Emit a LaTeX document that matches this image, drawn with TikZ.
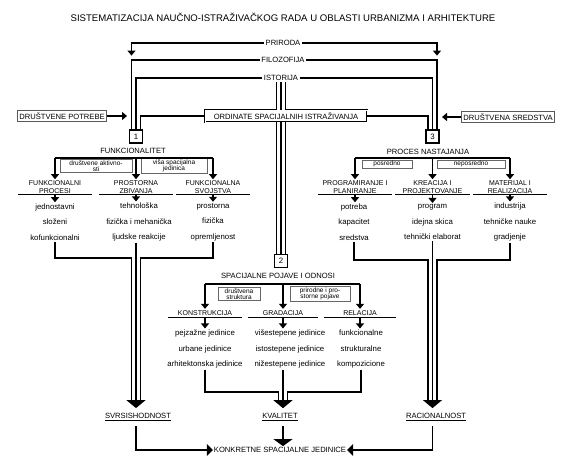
\documentclass[tikz,border=0pt]{standalone}
\usepackage{fontspec}
\setmainfont{Liberation Sans}
\usetikzlibrary{arrows.meta}
\begin{document}
\begin{tikzpicture}[x=1pt,y=-1pt,
  every node/.style={font=\fontsize{7.6}{8}\selectfont,inner sep=1pt},
  ln/.style={line width=1.1pt},
  brk/.style={fill=white,inner sep=1.5pt},
  numbox/.style={draw,line width=1.1pt,minimum size=13pt,inner sep=0pt,fill=white,font=\fontsize{7.8}{8}\selectfont},
  ordbox/.style={draw,double,double distance=0.8pt,line width=0.7pt,fill=white,minimum width=162pt,minimum height=12pt},
  sidebox/.style={draw=black!65,line width=0.8pt,minimum height=11pt,inner xsep=2pt},
  tagbox/.style={draw=black!60,line width=0.7pt,inner sep=1pt,align=center,font=\fontsize{6.5}{6.5}\selectfont},
  sub/.style={align=center,minimum width=74pt,inner sep=1.5pt,font=\fontsize{7}{7.3}\selectfont},
  list/.style={align=center,font=\fontsize{7.8}{15.7}\selectfont},
  res/.style={inner ysep=5pt},
  tip/.style={-{Triangle[width=8pt,length=5pt]}},
  bigtip/.style={-{Triangle[width=19pt,length=8pt]}},
  sidetip/.style={-{Triangle[width=12pt,length=6pt]}},
  triple/.style={double,double distance=7.8pt}
]
\path[use as bounding box] (0,0) rectangle (565,461);

% title
\node[font=\fontsize{9.6}{10}\selectfont] (title) at (283,17) {SISTEMATIZACIJA NAUČNO-ISTRAŽIVAČKOG RADA U OBLASTI URBANIZMA I ARHITEKTURE};

% outer frame
\node[brk] (prir) at (283,43) {PRIRODA};
\node[brk] (filo) at (283,60) {FILOZOFIJA};
\node[brk] (isto) at (281,78) {ISTORIJA};
\node[ordbox] (ordi) at (286,116) {ORDINATE SPACIJALNIH ISTRAŽIVANJA};
\node[numbox] (n1) at (136,136.5) {1};
\node[numbox] (n3) at (432.5,136.5) {3};
\node[numbox] (n2) at (281,261) {2};
\node[sidebox] (drpot) at (62,116) {DRUŠTVENE POTREBE};
\node[sidebox] (drsr) at (508,117) {DRUŠTVENA SREDSTVA};
\coordinate (potin) at (127,116);
\coordinate (srin) at (442,117);

\draw[ln,tip] (prir.west) -| ([xshift=-4.5pt]n1.north |- filo.north);
\draw[ln,tip] (prir.east) -| ([xshift=4.5pt]n3.north |- filo.north);
\draw[ln] (filo.west) -| ([xshift=-4.5pt]n1.north);
\draw[ln] (filo.east) -| ([xshift=4.5pt]n3.north);
\draw[ln] (isto.west) -| (n1.north);
\draw[ln] (isto.east) -| (n3.north);
\draw[ln] (ordi.west) -| ([xshift=4.5pt]n1.north);
\draw[ln] (ordi.east) -| ([xshift=-4.5pt]n3.north);
\draw[ln,triple] (isto.south) -- (isto.south |- ordi.north);
\draw[ln] (isto.south) -- (isto.south |- ordi.north);
\draw[ln,triple] (isto.south |- ordi.south) -- (n2.north);
\draw[ln] (isto.south |- ordi.south) -- (n2.north);
\draw[ln,tip] (drpot.east) -- (potin);
\draw[ln,tip] (drsr.west) -- (srin);

% 1 - funkcionalitet
\node (funk) at (133,151) {FUNKCIONALITET};
\coordinate (bl1) at (55,158);
\coordinate (bl3) at (213,158);
\node[tagbox,minimum width=72pt] (t1) at (96,166) {društvene aktivno-\\sti};
\node[tagbox,minimum width=66pt] (t2) at (174,166) {viša spacijalna\\jedinica};
\node[sub] (fp) at (55,187) {FUNKCIONALNI\\PROCESI};
\node[sub] (pz) at (136,187) {PROSTORNA\\ZBIVANJA};
\node[sub] (fs) at (213,187) {FUNKCIONALNA\\SVOJSTVA};
\node[list] (fpl) at (55,222) {jednostavni\\složeni\\kofunkcionalni};
\node[list] (pzl) at (139,222) {tehnološka\\fizička i mehanička\\ljudske reakcije};
\node[list] (fsl) at (213,222) {prostorna\\fizička\\opremljenost};
\draw[ln] (bl1) -- (bl3);
\draw[ln,tip] (bl1) -- (fp.north);
\draw[ln,tip] (pz.north |- bl1) -- (pz.north);
\draw[ln,tip] (bl3) -- (fs.north);
\draw[ln] (fp.south west) -- (fp.south east);
\draw[ln] (pz.south west) -- (pz.south east);
\draw[ln] (fs.south west) -- (fs.south east);
\draw[ln,tip] (fp.south) -- (fpl.north);
\draw[ln,tip] (pz.south) -- (pz.south |- pzl.north);
\draw[ln,tip] (fs.south) -- (fsl.north);

% 3 - proces nastajanja
\node (proc) at (428,152) {PROCES NASTAJANJA};
\coordinate (br1) at (355,158);
\coordinate (br3) at (510,158);
\node[tagbox,minimum width=50pt] (t3) at (387,164) {posredno};
\node[tagbox,minimum width=68pt] (t4) at (471,164) {neposredno};
\node[sub] (pp) at (355,187) {PROGRAMIRANJE I\\PLANIRANJE};
\node[sub] (kp) at (432.5,187) {KREACIJA I\\PROJEKTOVANJE};
\node[sub] (mr) at (510,187) {MATERIJAL I\\REALIZACIJA};
\node[list] (ppl) at (354,222) {potreba\\kapacitet\\sredstva};
\node[list] (kpl) at (432.5,222) {program\\idejna skica\\tehnički elaborat};
\node[list] (mrl) at (510,222) {industrija\\tehničke nauke\\gradjenje};
\draw[ln] (br1) -- (br3);
\draw[ln,tip] (br1) -- (pp.north);
\draw[ln,tip] (kp.north |- br1) -- (kp.north);
\draw[ln,tip] (br3) -- (mr.north);
\draw[ln] (pp.south west) -- (pp.south east);
\draw[ln] (kp.south west) -- (kp.south east);
\draw[ln] (mr.south west) -- (mr.south east);
\draw[ln,tip] (pp.south) -- (pp.south |- ppl.north);
\draw[ln,tip] (kp.south) -- (kpl.north);
\draw[ln,tip] (mr.south) -- (mrl.north);

% 2 - spacijalne pojave
\node (spo) at (278,276) {SPACIJALNE POJAVE I ODNOSI};
\coordinate (bm1) at (205,284);
\coordinate (bm3) at (360,284);
\node[tagbox,minimum width=42pt] (t5) at (239,294) {društvena\\struktura};
\node[tagbox,minimum width=60pt] (t6) at (320,294) {prirodne i pro-\\storne pojave};
\node[sub] (kon) at (205,313) {KONSTRUKCIJA};
\node[sub,minimum width=70pt] (gra) at (283,313) {GRADACIJA};
\node[sub,minimum width=72pt] (rel) at (360,313) {RELACIJA};
\node[list] (konl) at (205,349) {pejzažne jedinice\\urbane jedinice\\arhitektonska jedinice};
\node[list] (gral) at (290,349) {višestepene jedinice\\istostepene jedinice\\nižestepene jedinice};
\node[list] (rell) at (361,349) {funkcionalne\\strukturalne\\kompozicione};
\draw[ln] (bm1) -- (bm3);
\draw[ln,tip] (bm1) -- (kon.north);
\draw[ln,tip] (gra.north |- bm1) -- (gra.north);
\draw[ln,tip] (bm3) -- (rel.north);
\draw[ln] (kon.south west) -- (kon.south east);
\draw[ln] (gra.south west) -- (gra.south east);
\draw[ln] (rel.south west) -- (rel.south east);
\draw[ln,tip] (kon.south) -- (konl.north);
\draw[ln,tip] (gra.south) -- (gra.south |- gral.north);
\draw[ln,tip] (rel.south) -- (rel.south |- rell.north);

% results
\node[res] (svr) at (138,417) {\underline{SVRSISHODNOST}};
\node[res] (kva) at (280,417) {\underline{KVALITET}};
\node[res] (rac) at (436,417) {\underline{RACIONALNOST}};
\node[font=\fontsize{7.6}{8}\selectfont] (ksj) at (280,450) {KONKRETNE SPACIJALNE JEDINICE};

\coordinate (jl) at (136,258);
\draw[ln,shorten >=8pt] (fpl.south) |- ([xshift=-4.5pt]jl) -- ([xshift=-4.5pt]jl |- svr.north);
\draw[ln,bigtip] (jl |- pzl.south) -- (jl |- svr.north);
\draw[ln,shorten >=8pt] (fsl.south) |- ([xshift=4.5pt]jl) -- ([xshift=4.5pt]jl |- svr.north);

\coordinate (jm) at (283,392);
\draw[ln,shorten >=8pt] (konl.south) |- ([xshift=-4.5pt]jm) -- ([xshift=-4.5pt]jm |- kva.north);
\draw[ln,bigtip] (jm |- gral.south) -- (jm |- kva.north);
\draw[ln,shorten >=8pt] (rell.south) |- ([xshift=4.5pt]jm) -- ([xshift=4.5pt]jm |- kva.north);

\coordinate (jr) at (432.5,260);
\draw[ln,shorten >=8pt] (ppl.south) |- ([xshift=-4.5pt]jr) -- ([xshift=-4.5pt]jr |- rac.north);
\draw[ln,bigtip] (jr |- kpl.south) -- (jr |- rac.north);
\draw[ln,shorten >=8pt] (mrl.south) |- ([xshift=4.5pt]jr) -- ([xshift=4.5pt]jr |- rac.north);

\draw[ln,sidetip] (svr.south -| jl) |- (ksj.west);
\draw[ln,sidetip] (rac.south -| jr) |- (ksj.east);
\draw[ln,-{Triangle[width=19pt,length=7pt]}] (kva.south -| jm) -- (jm |- ksj.north);
\end{tikzpicture}
\end{document}
